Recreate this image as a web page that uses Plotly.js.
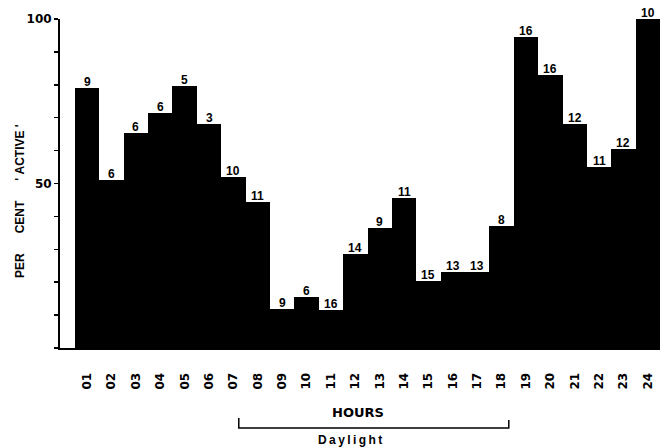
<!DOCTYPE html>
<html>
<head>
<meta charset="utf-8">
<script src="https://cdn.plot.ly/plotly-3.0.1.min.js"></script>
<style>html,body{margin:0;padding:0;background:#fff;}</style>
</head>
<body>
<div id="chart" style="width:660px;height:447px;"></div>
<script>
const hours = ['01','02','03','04','05','06','07','08','09','10','11','12','13','14','15','16','17','18','19','20','21','22','23','24'];
const percentActive = [79, 51, 65.5, 71.5, 79.5, 68, 52, 44.5, 12, 15.5, 11.5, 28.5, 36.5, 45.5, 20.5, 23, 23, 37, 94.5, 83, 68, 55, 60.5, 100];
const sampleSizes = [9, 6, 6, 6, 5, 3, 10, 11, 9, 6, 16, 14, 9, 11, 15, 13, 13, 8, 16, 16, 12, 11, 12, 10];
const yTickVals = [0, 10, 20, 30, 40, 50, 60, 70, 80, 90, 100];
const yTickText = ['', '', '', '', '', '50', '', '', '', '', '100'];

const trace = {
  type: 'bar',
  x: hours,
  y: percentActive,
  marker: {color: '#000', line: {width: 0}},
  hoverinfo: 'none'
};

const sans = 'Liberation Sans, Arial, sans-serif';
const bold = 'DejaVu Sans, sans-serif';
const nb = n => '\u00a0'.repeat(n);

// count labels placed on the category axis by category index
const countLabels = hours.map((h, i) => ({
  xref: 'x', yref: 'y', x: i, y: percentActive[i],
  xanchor: 'center', yanchor: 'bottom', yshift: -3,
  showarrow: false, text: String(sampleSizes[i]),
  font: {family: sans, size: 12, color: '#000', weight: 'bold'}
}));

const layout = {
  width: 660, height: 447,
  margin: {l: 60, r: 0, t: 19, b: 99},
  paper_bgcolor: '#fff', plot_bgcolor: '#fff',
  bargap: 0,
  showlegend: false,
  font: {family: sans, color: '#000'},
  xaxis: {
    type: 'category',
    range: [-1.115, 23.5],
    showgrid: false, zeroline: false,
    showline: true, linecolor: '#000', linewidth: 2,
    ticks: '', tickangle: -90,
    ticklabelstandoff: 18,
    tickfont: {family: bold, size: 12, color: '#000', weight: 'bold'}
  },
  yaxis: {
    range: [0, 100],
    showgrid: false, zeroline: false,
    showline: true, linecolor: '#000', linewidth: 2,
    ticks: 'outside', ticklen: 4, tickwidth: 1.5, tickcolor: '#000',
    tickvals: yTickVals, ticktext: yTickText,
    tickfont: {family: bold, size: 12, color: '#000', weight: 'bold'}
  },
  annotations: countLabels.concat([
    {xref: 'paper', yref: 'paper', x: (20 - 60) / 600, y: (348 - 201) / 329, xanchor: 'center', yanchor: 'middle',
     textangle: -90, showarrow: false,
     text: 'PER' + nb(6) + 'CENT' + nb(6) + "'" + nb(1) + 'ACTIVE' + nb(1) + "'",
     font: {family: sans, size: 12, color: '#000', weight: 'bold'}},
    {xref: 'paper', yref: 'paper', x: (358 - 60) / 600, y: (348 - 412) / 329, xanchor: 'center', yanchor: 'middle',
     showarrow: false, text: 'HOURS',
     font: {family: bold, size: 13, color: '#000', weight: 'bold'}},
    {xref: 'paper', yref: 'paper', x: (350 - 60) / 600, y: (348 - 440) / 329, xanchor: 'center', yanchor: 'middle',
     showarrow: false, text: 'D\u2009a\u2009y\u2009l\u2009i\u2009g\u2009h\u2009t',
     font: {family: sans, size: 12, color: '#000', weight: 'bold'}}
  ]),
  shapes: [
    {type: 'path', xref: 'paper', yref: 'paper',
     path: 'M 0.298,-0.213 L 0.298,-0.243 L 0.748,-0.243 L 0.748,-0.219',
     line: {color: '#000', width: 1.5}}
  ]
};

Plotly.newPlot('chart', [trace], layout, {displayModeBar: false, staticPlot: true});
</script>
</body>
</html>
